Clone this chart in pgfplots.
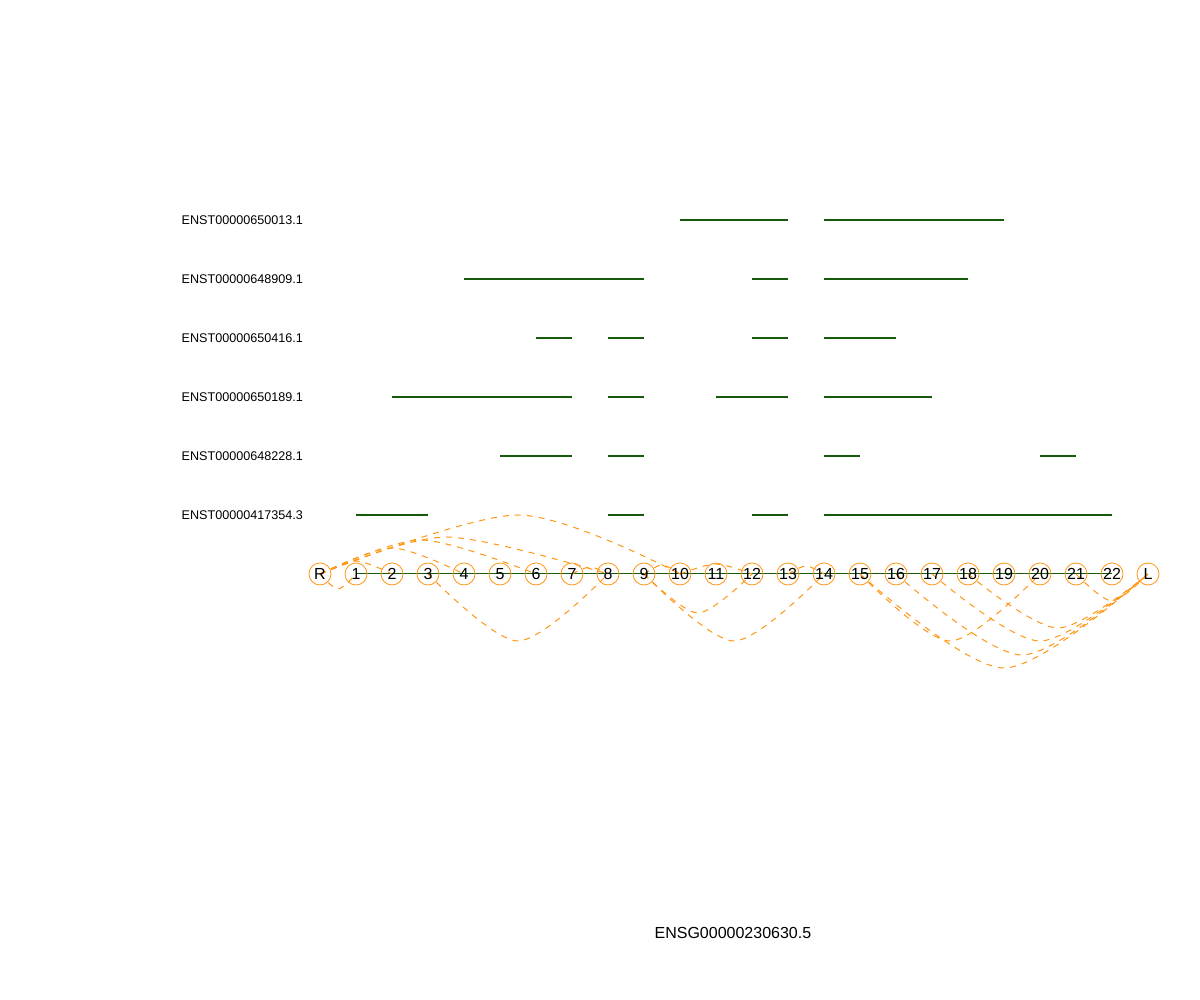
\documentclass[border=0pt]{standalone}
\usepackage{pgfplots}
\pgfplotsset{compat=1.18}
\usepackage{fontspec}
\setmainfont{Liberation Sans}
\definecolor{arc}{RGB}{255,150,20}
\definecolor{tr}{RGB}{20,90,10}
\tikzset{lab/.style={anchor=east,font=\fontsize{6.3}{7}\selectfont}}
\begin{document}
\begin{tikzpicture}
\begin{axis}[width=600pt,height=500pt,scale only axis,hide axis,clip=false,
 xmin=-8.8889,xmax=24.4444,ymin=-1000,ymax=0]
\path (axis cs:-8.8889,-1000) rectangle (axis cs:24.4444,0);
% transcripts
\pgfplotsset{trs/.style={tr,line width=1pt,forget plot}}
\addplot[trs] coordinates {(10,-220)(13,-220)};
\addplot[trs] coordinates {(14,-220)(19,-220)};
\addplot[trs] coordinates {(4,-279)(9,-279)};
\addplot[trs] coordinates {(12,-279)(13,-279)};
\addplot[trs] coordinates {(14,-279)(18,-279)};
\addplot[trs] coordinates {(6,-338)(7,-338)};
\addplot[trs] coordinates {(8,-338)(9,-338)};
\addplot[trs] coordinates {(12,-338)(13,-338)};
\addplot[trs] coordinates {(14,-338)(16,-338)};
\addplot[trs] coordinates {(2,-397)(7,-397)};
\addplot[trs] coordinates {(8,-397)(9,-397)};
\addplot[trs] coordinates {(11,-397)(13,-397)};
\addplot[trs] coordinates {(14,-397)(17,-397)};
\addplot[trs] coordinates {(5,-456)(7,-456)};
\addplot[trs] coordinates {(8,-456)(9,-456)};
\addplot[trs] coordinates {(14,-456)(15,-456)};
\addplot[trs] coordinates {(20,-456)(21,-456)};
\addplot[trs] coordinates {(1,-515)(3,-515)};
\addplot[trs] coordinates {(8,-515)(9,-515)};
\addplot[trs] coordinates {(12,-515)(13,-515)};
\addplot[trs] coordinates {(14,-515)(22,-515)};
\addplot[tr,line width=0.5pt,forget plot] coordinates {(1,-574)(22,-574)};
% arcs
\pgfplotsset{arcs/.style={arc,dashed,line width=0.5pt,smooth,forget plot}}
\addplot[arcs] coordinates {(0,-574)(1,-561)(2,-574)};
\addplot[arcs] coordinates {(0,-574)(2,-548)(4,-574)};
\addplot[arcs] coordinates {(0,-574)(2.8,-540)(6,-574)};
\addplot[arcs] coordinates {(0,-574)(3.5,-537)(8,-574)};
\addplot[arcs] coordinates {(0,-574)(5.5,-515)(10,-574)};
\addplot[arcs] coordinates {(7,-574)(7.5,-567)(8,-574)};
\addplot[arcs] coordinates {(9,-574)(9.5,-565)(10,-574)};
\addplot[arcs] coordinates {(10,-574)(11,-564)(12,-574)};
\addplot[arcs] coordinates {(13,-574)(13.5,-566)(14,-574)};
\addplot[arcs] coordinates {(0,-574)(0.5,-589)(1,-574)};
\addplot[arcs] coordinates {(3,-574)(5.5,-641)(8,-574)};
\addplot[arcs] coordinates {(9,-574)(10.5,-613)(12,-574)};
\addplot[arcs] coordinates {(9,-574)(11.5,-641)(14,-574)};
\addplot[arcs] coordinates {(15,-574)(17.5,-641)(20,-574)};
\addplot[arcs] coordinates {(15,-574)(19,-668)(23,-574)};
\addplot[arcs] coordinates {(16,-574)(19.5,-655)(23,-574)};
\addplot[arcs] coordinates {(17,-574)(20,-641)(23,-574)};
\addplot[arcs] coordinates {(18,-574)(20.5,-628)(23,-574)};
\addplot[arcs] coordinates {(21,-574)(22,-601)(23,-574)};
% nodes
\addplot[only marks,mark=o,arc,mark size=5.5pt,point meta=explicit symbolic,
 nodes near coords,every node near coord/.append style={anchor=center,black,font=\fontsize{8}{9}\selectfont}]
 table[meta=l] {
x y l
0 -574 R
1 -574 1
2 -574 2
3 -574 3
4 -574 4
5 -574 5
6 -574 6
7 -574 7
8 -574 8
9 -574 9
10 -574 10
11 -574 11
12 -574 12
13 -574 13
14 -574 14
15 -574 15
16 -574 16
17 -574 17
18 -574 18
19 -574 19
20 -574 20
21 -574 21
22 -574 22
23 -574 L
};
\node[lab] at (axis cs:-0.28,-220) {ENST00000650013.1};
\node[lab] at (axis cs:-0.28,-279) {ENST00000648909.1};
\node[lab] at (axis cs:-0.28,-338) {ENST00000650416.1};
\node[lab] at (axis cs:-0.28,-397) {ENST00000650189.1};
\node[lab] at (axis cs:-0.28,-456) {ENST00000648228.1};
\node[lab] at (axis cs:-0.28,-515) {ENST00000417354.3};
\node[font=\fontsize{8}{9}\selectfont] at (axis cs:11.47,-933) {ENSG00000230630.5};
\end{axis}
\end{tikzpicture}
\end{document}
